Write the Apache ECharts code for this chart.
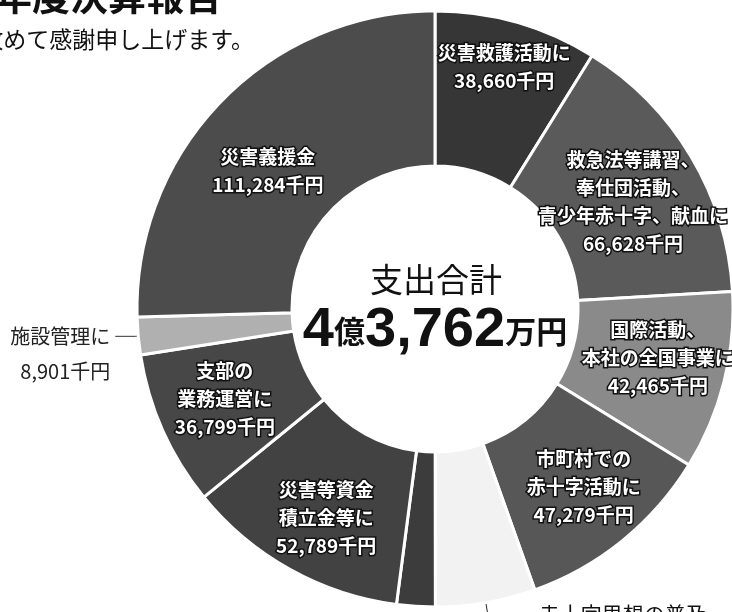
<!DOCTYPE html>
<html lang="ja">
<head>
    <meta charset="UTF-8">
    <title>支出合計</title>
    <script src="https://cdn.jsdelivr.net/npm/echarts@6/dist/echarts.min.js"></script>
    <style>
        html, body { margin: 0; padding: 0; background: #fff; }
        #main { width: 732px; height: 612px; }
    </style>
</head>
<body>
<div id="main"></div>

<script type="text/javascript">
    // 支出の内訳（単位：千円）、12時の位置から時計回り
    var names = ['災害救護活動に', '救急法等講習、\n奉仕団活動、\n青少年赤十字、献血に', '国際活動、\n本社の全国事業に',
        '市町村での\n赤十字活動に', '赤十字思想の普及', '', '災害等資金\n積立金等に', '支部の\n業務運営に', '施設管理に', '災害義援金'];
    var values = [38660, 66628, 42465, 47279, 23700, 9115, 52789, 36799, 8901, 111284];
    var colors = ['#363636', '#5a5a5a', '#8a8a8a', '#575757', '#f2f2f2', '#3c3c3c', '#424242', '#474747', '#b0b0b0', '#4c4c4c'];

    // 中央の合計表示
    var totalTitle = '支出合計';
    var totalParts = ['4', '億', '3,762', '万円'];

    // ラベル位置の微調整 [dx, dy]
    var labelShift = [[8, -27], [6, 7], [6, -6], [8, 4], [0, 0], [0, 0], [0, 14], [-6, -1], [0, 0], [-7, 18]];

    function fmt(v) {
        return v.toLocaleString('en-US') + '千円';
    }

    var data = [];
    for (var i = 0; i < values.length; i++) {
        var item = {name: names[i] || ('-' + i), value: values[i], itemStyle: {color: colors[i]}};
        if (i === 4) {
            // 下の見出しへ引き出し線
            item.label = {position: 'outside', color: '#111', fontWeight: 'normal', fontSize: 21,
                textBorderWidth: 0, align: 'left'};
            item.labelLine = {show: true, length: 12, length2: 46, lineStyle: {color: '#222', width: 1}};
        } else if (i === 5) {
            item.label = {show: false};
        } else if (i === 8) {
            // 1行目を引き出し線の高さに合わせるため先頭に空行
            item.label = {position: 'outside', color: '#222', fontWeight: 'normal', fontSize: 20,
                lineHeight: 35, textBorderWidth: 0};
            item.labelLine = {show: true, length: 3, length2: 20, lineStyle: {color: '#333', width: 1}};
        }
        data.push(item);
    }

    var myChart = echarts.init(document.getElementById('main'));
    myChart.setOption({
        animation: false,
        graphic: [
            {type: 'text', x: 222, y: -4, style: {text: '令和5年度決算報告', align: 'right', verticalAlign: 'middle',
                font: 'bold 38px "Noto Sans CJK JP"', fill: '#111'}},
            {type: 'text', x: 254, y: 39, style: {text: '改めて感謝申し上げます。', align: 'right', verticalAlign: 'middle',
                font: '23px "Noto Sans CJK JP"', fill: '#111'}},
            {type: 'text', x: 436, y: 279, z: 10, style: {text: totalTitle, align: 'center', verticalAlign: 'middle',
                font: '33px "Noto Sans CJK JP"', fill: '#111'}},
            {type: 'text', x: 435, y: 331, z: 10, style: {
                text: '{n|' + totalParts[0] + '}{u|' + totalParts[1] + '}{n|' + totalParts[2] + '}{u|' + totalParts[3] + '}',
                align: 'center', verticalAlign: 'middle',
                rich: {
                    n: {fontSize: 56, fontWeight: 'bold', fontFamily: 'Liberation Sans', fill: '#111'},
                    u: {fontSize: 31, fontWeight: 'bold', fontFamily: 'Noto Sans CJK JP', fill: '#111'}
                }
            }}
        ],
        series: [{
            type: 'pie',
            center: [435, 309],
            radius: [143, 298],
            startAngle: 90,
            clockwise: true,
            avoidLabelOverlap: false,
            silent: true,
            itemStyle: {borderColor: '#fff', borderWidth: 3},
            label: {
                position: 'inside',
                color: '#fff',
                fontFamily: 'Noto Sans CJK JP',
                fontWeight: 'bold',
                fontSize: 19,
                lineHeight: 28,
                textBorderColor: '#111',
                textBorderWidth: 3,
                formatter: function (p) {
                    var i = p.dataIndex;
                    if (i === 4) return names[i];
                    if (i === 5) return '';
                    if (i === 8) return '\n' + names[i] + '\n' + fmt(values[i]);
                    return names[i] + '\n' + fmt(values[i]);
                }
            },
            labelLine: {show: false},
            labelLayout: function (p) {
                var s = labelShift[p.dataIndex];
                return {dx: s[0], dy: s[1]};
            },
            data: data
        }]
    });
</script>
</body>
</html>
